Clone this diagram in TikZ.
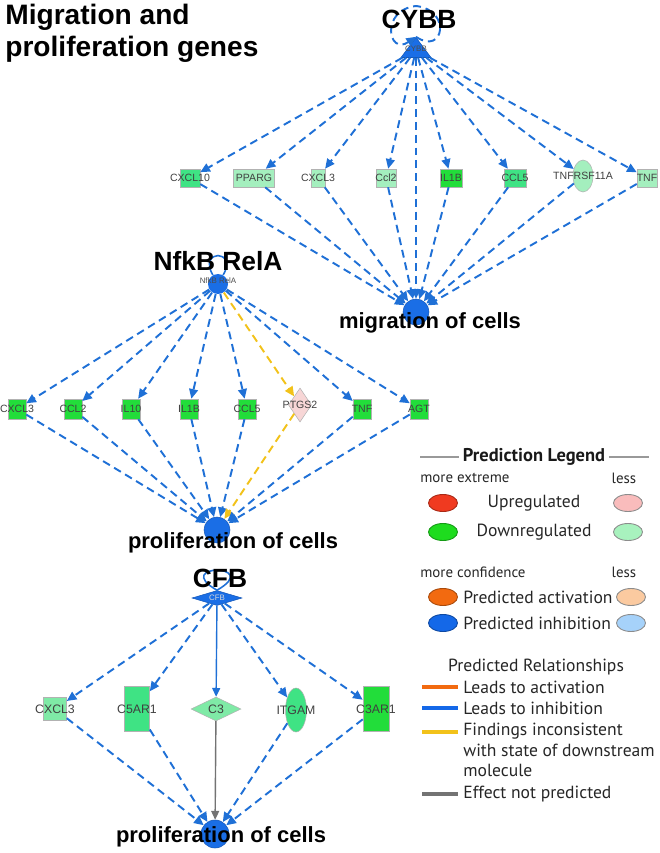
\documentclass[tikz,border=0pt]{standalone}
\usepackage{fontspec}
\setmainfont{Liberation Sans}
\newfontfamily\legendfont{PT Sans}
\usetikzlibrary{arrows.meta,shapes.geometric}

\definecolor{ipablue}{HTML}{1A6EE6}
\definecolor{linkblue}{HTML}{1F70D6}
\definecolor{linkyellow}{HTML}{F2C21A}
\definecolor{greendark}{HTML}{22DD3A}
\definecolor{greenmid}{HTML}{3FE384}
\definecolor{greenlight}{HTML}{A4EFBE}
\definecolor{greensoft}{HTML}{7FEAA6}
\definecolor{pinklight}{HTML}{F7D6D6}
\definecolor{legred}{HTML}{F03A20}
\definecolor{legpink}{HTML}{F9BCBC}
\definecolor{leggreen}{HTML}{1EDC1E}
\definecolor{legpalegreen}{HTML}{A8F2BE}
\definecolor{legorange}{HTML}{F26A10}
\definecolor{legpaleorange}{HTML}{FBCAA0}
\definecolor{legblue}{HTML}{1468E8}
\definecolor{legpaleblue}{HTML}{A6D2FA}

\tikzset{
  box/.style={rectangle, draw=black!30, line width=0.3pt, fill=#1, inner sep=0pt},
  oval/.style={ellipse, draw=black!30, line width=0.3pt, fill=#1, inner sep=0pt},
  rhomb/.style={diamond, draw=black!30, line width=0.3pt, fill=#1, inner sep=0pt},
  genetext/.style={font=\fontsize{6}{6}\selectfont, text=black!75, inner sep=0pt},
  tinytext/.style={font=\fontsize{4.5}{4.5}\selectfont, text=black!70, inner sep=0pt},
  procnode/.style={circle, fill=ipablue, draw=ipablue!80!black, line width=0.3pt, minimum size=5.2mm, inner sep=0pt},
  regtri/.style={isosceles triangle, shape border rotate=90, isosceles triangle stretches, fill=ipablue, draw=ipablue!80!black, line width=0.3pt, minimum width=6mm, minimum height=4mm, inner sep=0pt},
  regdot/.style={circle, fill=ipablue, minimum size=4mm, inner sep=0pt},
  regdiamond/.style={diamond, fill=ipablue, draw=ipablue!80!black, line width=0.3pt, minimum width=10mm, minimum height=3mm, inner sep=0pt},
  maintitle/.style={font=\bfseries\fontsize{16}{18.2}\selectfont, align=left, inner sep=0pt, anchor=north west},
  regtitle/.style={font=\bfseries\fontsize{15}{15}\selectfont, inner sep=0pt},
  proctitle/.style={font=\bfseries\fontsize{12.5}{12.5}\selectfont, inner sep=0pt},
  inhib/.style={draw=linkblue, line width=1.1pt, dash pattern=on 4.5pt off 2.8pt, -{Triangle[length=5.5pt, width=5pt]}},
  inhibsolid/.style={draw=linkblue, line width=0.8pt, -{Triangle[length=5pt, width=4.5pt]}},
  incons/.style={inhib, draw=linkyellow},
  noeffect/.style={draw=black!55, line width=0.8pt, -{Triangle[length=5pt, width=4.5pt]}},
  selfloop/.style={draw=linkblue, line width=0.9pt},
  legtext/.style={font=\legendfont\fontsize{10}{11.6}\selectfont, text=black!85, inner sep=0pt},
  legsmall/.style={font=\legendfont\fontsize{8.5}{8.5}\selectfont, text=black!85, inner sep=0pt},
  legbold/.style={font=\legendfont\bfseries\fontsize{10.5}{10.5}\selectfont, text=black!90, inner sep=0pt, inner xsep=2pt},
  legoval/.style={ellipse, minimum width=5.8mm, minimum height=3.4mm, fill=#1, draw=#1!70!black, line width=0.5pt, inner sep=0pt},
  legpale/.style={legoval=#1, draw=black!45},
  legline/.style={line width=2.2pt, draw=#1},
}

\def\gene[#1](#2)(#3)#4{\node[#1] (#2) at (#3) {}; \node[genetext] (#2-t) at (#3) {#4};}

\begin{document}
\begin{tikzpicture}[x=0.2mm, y=-0.2mm]
  %%%%% START %%%%%
  \useasboundingbox (0,0) rectangle (659,853);

  \node[maintitle] (title) at (5,4) {Migration and\\proliferation genes};

  % CYBB -> migration of cells
  \node[regtri] (cybb) at (416,50) {};
  \node[tinytext] (cybb-t) at (416,49) {CYBB};
  \gene[box=greenmid, minimum width=4mm, minimum height=3.6mm](cxclten)(190,178){CXCL10}
  \gene[box=greenlight, minimum width=8.2mm, minimum height=3.6mm](pparg)(254,178){PPARG}
  \gene[box=greenlight, minimum width=2.8mm, minimum height=3.6mm](cxclthree)(318,178){CXCL3}
  \gene[box=greenlight, minimum width=4mm, minimum height=3.6mm](ccltwo)(386,178){Ccl2}
  \gene[box=greendark, minimum width=4.4mm, minimum height=3.6mm](ilonebeta)(451,178){IL1B}
  \gene[box=greenmid, minimum width=4.4mm, minimum height=3.6mm](cclfive)(515,178){CCL5}
  \gene[oval=greenlight, minimum width=4mm, minimum height=6.4mm](tnfrsf)(583,176){TNFRSF11A}
  \gene[box=greenlight, minimum width=4mm, minimum height=3.6mm](tnf)(647,178){TNF}
  \node[procnode] (migr) at (416,312) {};

  \coordinate (cybbtop) at (416,6);
  \draw[inhib] (cybb.apex) .. controls (444,56) and (452,10) .. (cybbtop) .. controls (380,10) and (388,56) .. (cybb.apex);
  \draw[inhib] (cybb) -- (cxclten);
  \draw[inhib] (cybb) -- (pparg);
  \draw[inhib] (cybb) -- (cxclthree);
  \draw[inhib] (cybb) -- (ccltwo);
  \draw[inhib] (cybb) -- (ilonebeta);
  \draw[inhib] (cybb) -- (cclfive);
  \draw[inhib] (cybb) -- (tnfrsf);
  \draw[inhib] (cybb) -- (tnf);
  \draw[inhib] (cybb) -- (migr);
  \draw[inhib] (cxclten) -- (migr);
  \draw[inhib] (pparg) -- (migr);
  \draw[inhib] (cxclthree) -- (migr);
  \draw[inhib] (ccltwo) -- (migr);
  \draw[inhib] (ilonebeta) -- (migr);
  \draw[inhib] (cclfive) -- (migr);
  \draw[inhib] (tnfrsf) -- (migr);
  \draw[inhib] (tnf) -- (migr);

  \node[regtitle] (cybb-h) at (419,19) {CYBB};
  \node[proctitle] (migr-h) at (430,323) {migration of cells};

  % NfkB RelA -> proliferation of cells
  \node[regdot] (nfkb) at (218,284) {};
  \node[tinytext] (nfkb-t) at (218,281) {NfkB RelA};
  \gene[box=greendark, minimum width=3.6mm, minimum height=4mm](cxclthreeb)(17,409){CXCL3}
  \gene[box=greendark, minimum width=3.6mm, minimum height=4mm](ccltwob)(73,409){CCL2}
  \gene[box=greendark, minimum width=3.6mm, minimum height=4mm](ilten)(131,409){IL10}
  \gene[box=greendark, minimum width=3.6mm, minimum height=4mm](ilonebetab)(189,409){IL1B}
  \gene[box=greendark, minimum width=3.6mm, minimum height=4mm](cclfiveb)(247,409){CCL5}
  \gene[rhomb=pinklight, minimum width=4.6mm, minimum height=6.8mm](ptgs)(300,405){PTGS2}
  \gene[box=greendark, minimum width=3.6mm, minimum height=4mm](tnfb)(362,409){TNF}
  \gene[box=greendark, minimum width=3.6mm, minimum height=4mm](agt)(419,409){AGT}
  \node[procnode] (prola) at (217,530) {};

  \draw[selfloop] (nfkb) to[out=120, in=60, min distance=6mm] (nfkb);
  \draw[inhib] (nfkb) -- (cxclthreeb);
  \draw[inhib] (nfkb) -- (ccltwob);
  \draw[inhib] (nfkb) -- (ilten);
  \draw[inhib] (nfkb) -- (ilonebetab);
  \draw[inhib] (nfkb) -- (cclfiveb);
  \draw[incons] (nfkb) -- (ptgs);
  \draw[inhib] (nfkb) -- (tnfb);
  \draw[inhib] (nfkb) -- (agt);
  \draw[inhib] (cxclthreeb) -- (prola);
  \draw[inhib] (ccltwob) -- (prola);
  \draw[inhib] (ilten) -- (prola);
  \draw[inhib] (ilonebetab) -- (prola);
  \draw[inhib] (cclfiveb) -- (prola);
  \draw[incons] (ptgs) -- (prola);
  \draw[inhib] (tnfb) -- (prola);
  \draw[inhib] (agt) -- (prola);

  \node[regtitle] (nfkb-h) at (218,261) {NfkB RelA};
  \node[proctitle] (prola-h) at (233,543) {proliferation of cells};

  % CFB -> proliferation of cells
  \node[regdiamond] (cfb) at (217,598) {};
  \node[tinytext, text=white!85!black] (cfb-t) at (217,598) {CFB};
  \begin{scope}[genetext/.append style={font=\fontsize{7}{7}\selectfont}]
    \gene[box=greensoft, minimum width=4.6mm, minimum height=4.6mm](cxclthreec)(55,709){CXCL3}
    \gene[box=greenmid, minimum width=5mm, minimum height=9mm](cfivear)(137,709){C5AR1}
    \gene[rhomb=greensoft, minimum width=10mm, minimum height=4.8mm](cthree)(216,709){C3}
    \gene[oval=greenmid, minimum width=4.2mm, minimum height=8.8mm](itgam)(296,710){ITGAM}
    \gene[box=greendark, minimum width=5.2mm, minimum height=9mm](cthreear)(376,709){C3AR1}
  \end{scope}
  \node[procnode, minimum size=5.6mm] (prolb) at (215,834) {};

  \draw[selfloop] (cfb.north) .. controls +(150:10.7mm) and +(30:10.7mm) .. (cfb.north);
  \draw[inhib] (cfb) -- (cxclthreec);
  \draw[inhib] (cfb) -- (cfivear);
  \draw[inhibsolid] (cfb) -- (cthree);
  \draw[inhib] (cfb) -- (itgam);
  \draw[inhib] (cfb) -- (cthreear);
  \draw[inhib] (cxclthreec) -- (prolb);
  \draw[inhib] (cfivear) -- (prolb);
  \draw[noeffect] (cthree) -- (prolb);
  \draw[inhib] (itgam) -- (prolb);
  \draw[inhib] (cthreear) -- (prolb);

  \node[regtitle] (cfb-h) at (220,578) {CFB};
  \node[proctitle] (prolb-h) at (221,837) {proliferation of cells};

  % legend
  \node[legbold] (legtitle) at (534,457) {Prediction Legend};
  \coordinate (legl) at (420,457);
  \coordinate (legr) at (649,457);
  \draw[black!40, line width=0.8pt] (legl) -- (legtitle);
  \draw[black!40, line width=0.8pt] (legtitle) -- (legr);
  \node[legsmall, anchor=west] (extreme) at (420,478) {more extreme};
  \node[legsmall] (extremeless) at (624,478) {less};
  \node[legoval=legred] (upmore) at (443,503) {};
  \node[legtext] (uptext) at (534,503) {Upregulated};
  \node[legpale=legpink] (upless) at (628,503) {};
  \node[legoval=leggreen] (downmore) at (443,532) {};
  \node[legtext] (downtext) at (534,532) {Downregulated};
  \node[legpale=legpalegreen] (downless) at (628,532) {};
  \node[legsmall, anchor=west] (confidence) at (420,572) {more confidence};
  \node[legsmall] (confidenceless) at (624,572) {less};
  \node[legoval=legorange] (actmore) at (443,597) {};
  \node[legtext, anchor=west] (acttext) at (463,597) {Predicted activation};
  \node[legpale=legpaleorange] (actless) at (631,597) {};
  \node[legoval=legblue] (inhmore) at (443,623) {};
  \node[legtext, anchor=west] (inhtext) at (463,623) {Predicted inhibition};
  \node[legpale=legpaleblue] (inhless) at (631,623) {};

  \node[legtext] (reltitle) at (536,667) {Predicted Relationships};
  \coordinate (rela) at (422,687); \coordinate (relb) at (458,687);
  \draw[legline=legorange] (rela) -- (relb);
  \node[legtext, anchor=west] (reltexta) at (463,687) {Leads to activation};
  \coordinate (relc) at (422,708); \coordinate (reld) at (458,708);
  \draw[legline=legblue] (relc) -- (reld);
  \node[legtext, anchor=west] (reltextb) at (463,708) {Leads to inhibition};
  \coordinate (rele) at (422,732); \coordinate (relf) at (458,732);
  \draw[legline=linkyellow] (rele) -- (relf);
  \node[legtext, anchor=north west, align=left] (reltextc) at (463,723) {Findings inconsistent\\with state of downstream\\molecule};
  \coordinate (relg) at (422,794); \coordinate (relh) at (458,794);
  \draw[legline=black!55] (relg) -- (relh);
  \node[legtext, anchor=west] (reltextd) at (463,794) {Effect not predicted};

  %%%%% END %%%%%
\end{tikzpicture}
\end{document}
